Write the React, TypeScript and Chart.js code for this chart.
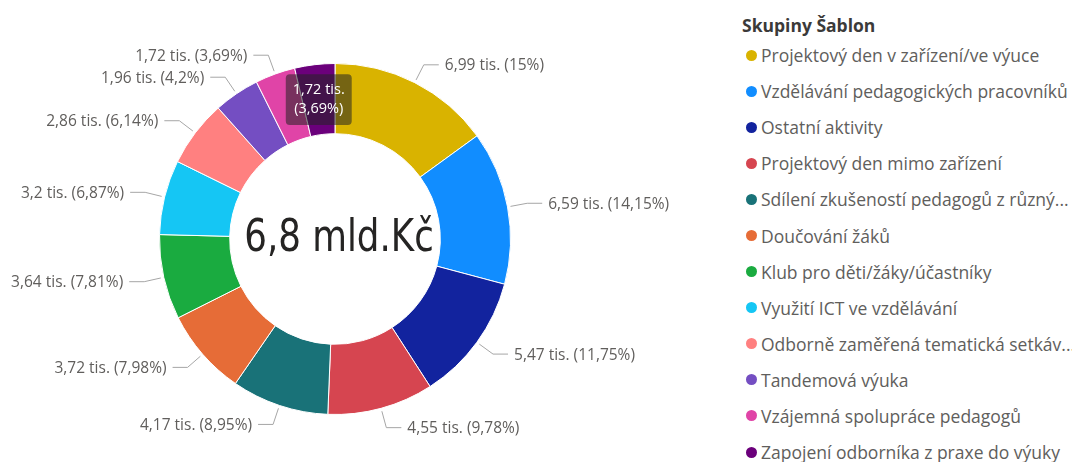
import React, { useEffect, useRef } from 'react';
import { Chart, registerables } from 'chart.js';

Chart.register(...registerables);

const categories = [
  'Projektový den v zařízení/ve výuce',
  'Vzdělávání pedagogických pracovníků',
  'Ostatní aktivity',
  'Projektový den mimo zařízení',
  'Sdílení zkušeností pedagogů z různý...',
  'Doučování žáků',
  'Klub pro děti/žáky/účastníky',
  'Využití ICT ve vzdělávání',
  'Odborně zaměřená tematická setkáv...',
  'Tandemová výuka',
  'Vzájemná spolupráce pedagogů',
  'Zapojení odborníka z praxe do výuky',
];
const valuesTis = [6.99, 6.59, 5.47, 4.55, 4.17, 3.72, 3.64, 3.2, 2.86, 1.96, 1.72, 1.72];
const percents = [15, 14.15, 11.75, 9.78, 8.95, 7.98, 7.81, 6.87, 6.14, 4.2, 3.69, 3.69];
const colors = [
  '#D9B300', '#118DFF', '#12239E', '#D64550', '#197278', '#E66C37',
  '#1AAB40', '#15C6F4', '#FF8080', '#744EC2', '#E044A7', '#6B007B',
];
const legendTitle = 'Skupiny Šablon';
const centerText = '6,8 mld.Kč';
const tooltipIndex = 11;
const hiddenLabelIndex = 11;

const LABEL_FONT = '"Open Sans", "Noto Sans", sans-serif';

const fmt = (n: number) => String(n).replace('.', ',');
const valueLabel = (i: number) => `${fmt(valuesTis[i])} tis.`;
const pctLabel = (i: number) => `(${fmt(percents[i])}%)`;

const labelsPlugin = {
  id: 'outerLabels',
  afterDatasetsDraw(chart: any) {
    const { ctx, chartArea } = chart;
    const meta = chart.getDatasetMeta(0);
    ctx.save();
    meta.data.forEach((arc: any, i: number) => {
      if (i === hiddenLabelIndex) return;
      const { x, y, startAngle, endAngle, outerRadius } = arc.getProps(
        ['x', 'y', 'startAngle', 'endAngle', 'outerRadius'], true);
      const mid = (startAngle + endAngle) / 2;
      const cos = Math.cos(mid);
      const sin = Math.sin(mid);
      const sx = x + cos * (outerRadius + 3);
      const sy = y + sin * (outerRadius + 3);
      const ex = x + cos * (outerRadius + 20);
      const ey = y + sin * (outerRadius + 20);
      const right = cos >= 0;
      const hx = ex + (right ? 15 : -15);
      ctx.strokeStyle = '#A6A6A6';
      ctx.lineWidth = 1;
      ctx.beginPath();
      ctx.moveTo(sx, sy);
      ctx.lineTo(ex, ey);
      ctx.lineTo(hx, ey);
      ctx.stroke();
      ctx.fillStyle = '#605E5C';
      ctx.font = `15.5px ${LABEL_FONT}`;
      ctx.textBaseline = 'middle';
      ctx.textAlign = right ? 'left' : 'right';
      ctx.fillText(`${valueLabel(i)} ${pctLabel(i)}`, hx + (right ? 6 : -6), ey + 1);
    });
    const cx = (chartArea.left + chartArea.right) / 2;
    const cy = (chartArea.top + chartArea.bottom) / 2;
    ctx.fillStyle = '#252423';
    ctx.font = '44px "DejaVu Sans Condensed", "DejaVu Sans", sans-serif';
    ctx.textAlign = 'center';
    ctx.textBaseline = 'middle';
    ctx.translate(cx + 4, cy + 1);
    ctx.scale(0.9, 1);
    ctx.fillText(centerText, 0, 0);
    ctx.restore();
  },
};

export default function App() {
  const canvasRef = useRef<HTMLCanvasElement | null>(null);

  useEffect(() => {
    if (!canvasRef.current) return;
    const chart = new Chart(canvasRef.current, {
      type: 'doughnut',
      data: {
        labels: categories,
        datasets: [
          {
            data: valuesTis,
            backgroundColor: colors,
            borderColor: '#ffffff',
            borderWidth: 1,
            hoverOffset: 0,
            offset: 0,
          },
        ],
      },
      options: {
        responsive: false,
        animation: false,
        events: [],
        cutout: '60%',
        layout: { padding: { left: 159, right: 209, top: 63, bottom: 47 } },
        plugins: {
          legend: { display: false },
          tooltip: {
            enabled: true,
            backgroundColor: 'rgba(35,35,35,0.55)',
            displayColors: false,
            xAlign: 'center',
            yAlign: 'center',
            caretSize: 0,
            caretPadding: 0,
            cornerRadius: 4,
            padding: { x: 7, y: 7 },
            bodyAlign: 'center',
            bodySpacing: 2,
            bodyColor: '#ffffff',
            bodyFont: { family: LABEL_FONT, size: 14.5 },
            callbacks: {
              title: () => [],
              label: (c: any) => [valueLabel(c.dataIndex), pctLabel(c.dataIndex)],
            },
          },
        },
      },
      plugins: [labelsPlugin],
    });
    chart.tooltip?.setActiveElements([{ datasetIndex: 0, index: tooltipIndex }], { x: 0, y: 0 });
    chart.update();
    return () => chart.destroy();
  }, []);

  return (
    <div
      style={{
        position: 'fixed',
        left: 0,
        top: 0,
        width: 1072,
        height: 462,
        overflow: 'hidden',
        background: '#ffffff',
      }}
    >
      <canvas
        ref={canvasRef}
        width={720}
        height={462}
        style={{ position: 'absolute', left: 0, top: 0, width: 720, height: 462 }}
      />
      <div
        style={{
          position: 'absolute',
          left: 742,
          top: 13,
          fontFamily: LABEL_FONT,
          fontWeight: 700,
          fontSize: 17.5,
          lineHeight: '24px',
          color: '#3B3A39',
          whiteSpace: 'nowrap',
        }}
      >
        {legendTitle}
      </div>
      <div style={{ position: 'absolute', left: 746, top: 37 }}>
        {categories.map((c, i) => (
          <div
            key={c}
            style={{
              height: 36.1,
              display: 'flex',
              alignItems: 'center',
              whiteSpace: 'nowrap',
            }}
          >
            <span
              style={{
                width: 11,
                height: 11,
                borderRadius: '50%',
                background: colors[i],
                marginRight: 4,
                flex: 'none',
              }}
            />
            <span
              style={{
                fontFamily: LABEL_FONT,
                fontSize: 17.5,
                lineHeight: '24px',
                color: '#605E5C',
              }}
            >
              {c}
            </span>
          </div>
        ))}
      </div>
    </div>
  );
}
